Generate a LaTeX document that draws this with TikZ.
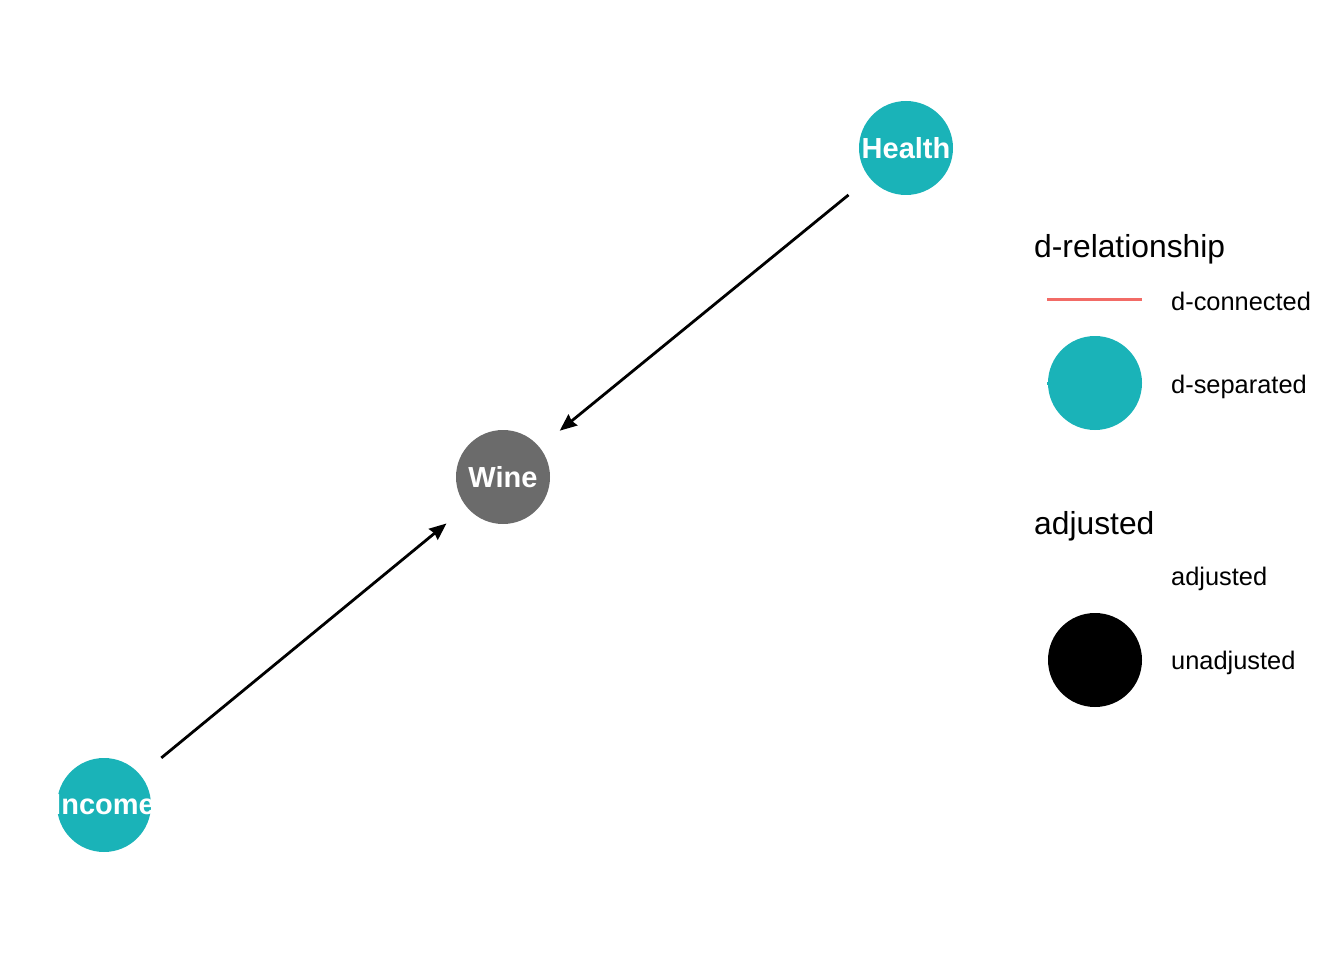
\documentclass[tikz,border=0pt]{standalone}
\usepackage{fontspec}
\setmainfont{Liberation Sans}
\usetikzlibrary{arrows.meta}
\definecolor{teal}{HTML}{1AB3B8}
\definecolor{wgrey}{HTML}{6B6B6B}
\definecolor{dred}{HTML}{F26B66}
\tikzset{
  dagnode/.style={circle, minimum size=94pt, inner sep=0pt},
  daglabel/.style={label={[text=white, inner sep=0pt, font=\fontsize{29pt}{30pt}\selectfont\bfseries]center:#1}},
  dagedge/.style={line width=2.8pt, -{Stealth[length=17pt, width=14pt, inset=1.5pt]}, shorten <=27pt, shorten >=26pt},
  legtitle/.style={anchor=base west, inner sep=0pt, font=\fontsize{31.8pt}{34pt}\selectfont},
  leglabel/.style={anchor=base west, inner sep=0pt, font=\fontsize{25.4pt}{27pt}\selectfont},
  legdot/.style={circle, minimum size=94pt, inner sep=0pt}
}
\begin{document}
\begin{tikzpicture}[x=1pt, y=-1pt]
\useasboundingbox (0,0) rectangle (1344,960);
\node[dagnode, fill=teal, daglabel=Health] (health) at (906,148) {};
\node[dagnode, fill=wgrey, daglabel=Wine] (wine) at (503,477) {};
\node[dagnode, fill=teal, daglabel=Income] (income) at (104,805) {};
\draw[dagedge] (health) -- (wine);
\draw[dagedge] (income) -- (wine);
% legend
\node[legtitle] (t1) at (1034,258) {d-relationship};
\coordinate (l1a) at (1047,299);
\coordinate (l1b) at (1142,299);
\draw[dred, line width=3pt] (l1a) -- (l1b);
\node[leglabel] (lab1) at (1171,310) {d-connected};
\coordinate (l2a) at (1047,383);
\coordinate (l2b) at (1142,383);
\draw[teal, line width=3pt] (l2a) -- (l2b);
\node[legdot, fill=teal] (dot1) at (1095,383) {};
\node[leglabel] (lab2) at (1171,393) {d-separated};
\node[legtitle] (t2) at (1034,534) {adjusted};
\node[leglabel] (lab3) at (1171,585) {adjusted};
\node[legdot, fill=black] (dot2) at (1095,660) {};
\node[leglabel] (lab4) at (1171,669) {unadjusted};
\end{tikzpicture}
\end{document}
